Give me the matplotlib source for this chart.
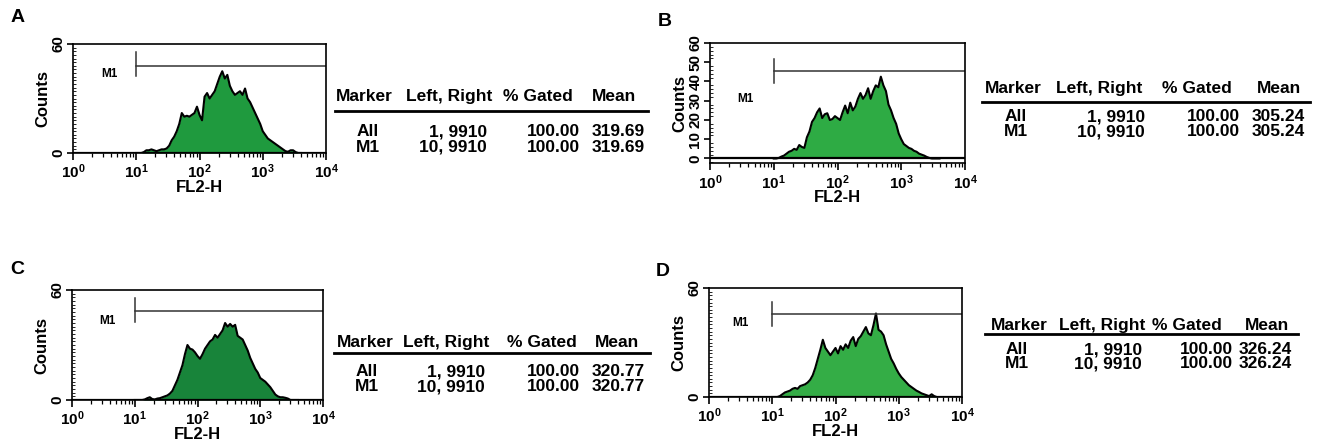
import matplotlib
matplotlib.use("Agg")
import matplotlib.pyplot as plt
import numpy as np
from matplotlib.ticker import FixedLocator, MultipleLocator, LogLocator, NullFormatter

plt.rcParams['font.family'] = ['Liberation Sans', 'DejaVu Sans']
plt.rcParams['font.weight'] = 'bold'

W, H = 1322, 441

# FL2-H histograms, counts per bin, bins start at 10^1 and step 0.04 decade
counts_a = [0, 0, 0, 0.5, 1.5, 1.5, 2, 1.5, 1, 1.5,
            2, 2, 2.5, 4, 7, 9, 12, 16, 22, 20,
            20.5, 20, 21, 22, 25.5, 21, 18, 31, 33, 30,
            32, 34, 38, 42, 45, 41, 43, 37, 34, 32,
            33, 34, 32, 35.5, 30, 28, 25, 22, 19, 16,
            12, 10, 8, 7, 6, 5, 4, 3, 2, 1,
            0.7, 1.5, 1.5, 0.5, 0, 0]
counts_b = [0, 0, 0.3, 1, 1.5, 2.5, 3.5, 4, 5, 4.5,
            7, 6, 5.5, 11, 14, 19, 21, 24, 26, 21,
            23, 23.5, 20, 20.5, 22, 21, 20, 24, 27.5, 23.5,
            29, 25, 27, 31, 34, 31, 33, 36.5, 31, 35,
            38, 37, 42.5, 38, 35, 28, 25, 21, 18, 13,
            10, 7.5, 6.5, 5.5, 5, 4, 3.5, 2.5, 2, 1.5,
            0.8, 0.3, 0, 0, 0, 0]
counts_c = [0, 0, 0, 0, 0.3, 1, 1.5, 0.5, 0.3, 0.8,
            1, 1.5, 2, 2.5, 3.5, 5, 8, 11, 15, 19,
            25, 30, 28, 27.5, 26, 24, 22.5, 25, 28, 30,
            32, 33, 35.5, 34, 36, 38, 42, 40, 41.5, 40,
            41, 35, 34, 33, 30, 27, 23, 20, 17, 15,
            12, 11, 10, 8.5, 7, 5, 3, 2, 1.5, 1.5,
            1.2, 0.8, 0, 0, 0, 0]
counts_d = [0, 0, 0, 0.5, 1.5, 2.5, 3, 3.5, 4.5, 5,
            4.5, 6, 6.5, 7, 8, 9.5, 12, 16, 21, 26,
            31.5, 27, 25, 23, 25, 27, 24, 28, 26, 29,
            27, 31, 33, 28, 32, 33.5, 36, 38.5, 35, 34,
            39.5, 46, 37, 36, 34, 29, 25, 21, 18.5, 15.5,
            13, 11, 9.5, 8, 6.5, 5.5, 4.5, 3.5, 2.8, 2,
            1.5, 1, 0.5, 1.5, 0.5, 0]

# marker M1: bar height, tick bottom/top, label position (log x, counts)
m1_a = (48, 42.4, 55.6, 0.58, 43.5)
m1_b = (45.5, 39.2, 51.7, 0.56, 31)
m1_c = (48.5, 42.7, 55.5, 0.57, 43)
m1_d = (45.7, 39, 52.5, 0.49, 41)

header = ["Marker", "Left, Right", "% Gated", "Mean"]
rows_a = [["All", "1, 9910", "100.00", "319.69"], ["M1", "10, 9910", "100.00", "319.69"]]
rows_b = [["All", "1, 9910", "100.00", "305.24"], ["M1", "10, 9910", "100.00", "305.24"]]
rows_c = [["All", "1, 9910", "100.00", "320.77"], ["M1", "10, 9910", "100.00", "320.77"]]
rows_d = [["All", "1, 9910", "100.00", "326.24"], ["M1", "10, 9910", "100.00", "326.24"]]

fig = plt.figure(figsize=(W / 100, H / 100), dpi=100)


def px(x, y):
    return x / W, 1 - y / H


def histo(rect, counts, m1, color, yticks, ymin=0):
    ax = fig.add_axes(rect)
    x = 10 ** (1.0 + 0.04 * np.arange(len(counts)))
    ax.fill_between(x, counts, color=color, lw=0)
    ax.plot(x, counts, color='black', lw=1.5)
    ax.axhline(0, color='black', lw=1.6)
    ax.set_xscale('log')
    ax.set_xlim(1, 1e4)
    ax.set_ylim(ymin, 60)
    bar, lo, hi, lx, ly = m1
    ax.plot([10, 1e4], [bar, bar], color='#333333', lw=1.1)
    ax.plot([10, 10], [lo, hi], color='#333333', lw=1.1)
    ax.text(10 ** lx, ly, "M1", fontsize=8.5, ha='center', va='center')
    ax.xaxis.set_major_locator(LogLocator(base=10, numticks=10))
    ax.xaxis.set_minor_locator(LogLocator(base=10, subs=np.arange(2, 10), numticks=10))
    ax.xaxis.set_minor_formatter(NullFormatter())
    ax.yaxis.set_major_locator(FixedLocator(yticks))
    ax.yaxis.set_minor_locator(MultipleLocator(2))
    ax.tick_params(axis='x', which='major', length=5, width=1.2, labelsize=11, pad=2)
    ax.tick_params(axis='x', which='minor', length=3, width=0.9)
    ax.tick_params(axis='y', which='major', length=4, width=1.2, labelsize=11, pad=1.5)
    ax.tick_params(axis='y', which='minor', direction='in', length=2, width=0.6)
    for lab in ax.get_yticklabels():
        lab.set_rotation(90)
        lab.set_va('center')
        lab.set_fontweight('bold')
    for lab in ax.get_xticklabels():
        lab.set_fontweight('bold')
    for s in ax.spines.values():
        s.set_linewidth(1.2)
    ax.set_xlabel("FL2-H", fontsize=12, fontweight='bold', labelpad=-1)
    ax.set_ylabel("Counts", fontsize=12, fontweight='bold', labelpad=1)
    return ax


def table(rows, cols, line_y, line_x0, line_x1, head_y, row_ys):
    # cols: marker left, first column center, left-right header left, value right,
    # gated header left, gated right, mean header left, mean right
    mk, cen, lr_l, lr_r, g_l, g_r, m_l, m_r = cols
    fs = 12.5
    off = 6.2  # px from text middle to baseline
    for txt, xx in zip(header, [mk, lr_l, g_l, m_l]):
        fig.text(*px(xx, head_y + off), txt, fontsize=fs, ha='left', va='baseline')
    fig.add_artist(plt.Line2D([line_x0 / W, line_x1 / W], [1 - line_y / H] * 2,
                              color='black', lw=2))
    for r, yy in zip(rows, row_ys):
        yb = yy + off
        fig.text(*px(cen, yb), r[0], fontsize=fs, ha='center', va='baseline')
        fig.text(*px(lr_r, yb), r[1], fontsize=fs, ha='right', va='baseline')
        fig.text(*px(g_r, yb), r[2], fontsize=fs, ha='right', va='baseline')
        fig.text(*px(m_r, yb), r[3], fontsize=fs, ha='right', va='baseline')


green_a = '#1f9a3e'
green_b = '#2eab44'
green_c = '#18843a'
green_d = '#34ad46'

histo([73 / W, 1 - 153 / H, 253 / W, 109 / H], counts_a, m1_a, green_a, [0, 60])
histo([710 / W, 1 - 163.3 / H, 255 / W, 120.3 / H], counts_b, m1_b, green_b,
      [0, 10, 20, 30, 40, 50, 60], ymin=-2.5)
histo([72 / W, 1 - 400 / H, 251 / W, 110 / H], counts_c, m1_c, green_c, [0, 60])
histo([709 / W, 1 - 397 / H, 253 / W, 109 / H], counts_d, m1_d, green_d, [0, 60])

table(rows_a, (336, 368, 406, 487, 503, 580, 592, 645), 110.5, 335, 648, 95, [130, 145.5])
table(rows_b, (985, 1016, 1056, 1145, 1162, 1240, 1257, 1305), 101.7, 982, 1310, 87, [115, 130])
table(rows_c, (337, 367, 403, 485, 507, 580, 595, 645), 353.3, 334, 650, 340.7, [370, 385])
table(rows_d, (991, 1017, 1059, 1142, 1152, 1233, 1245, 1292), 334.3, 985, 1298, 324, [348.3, 362])

for lab, (lx, ly) in zip("ABCD", [(18, 18), (665, 22), (17, 270), (663, 271)]):
    fig.text(*px(lx, ly), lab, fontsize=14, ha='center', va='center')

fig.savefig("out.png", dpi=100)
